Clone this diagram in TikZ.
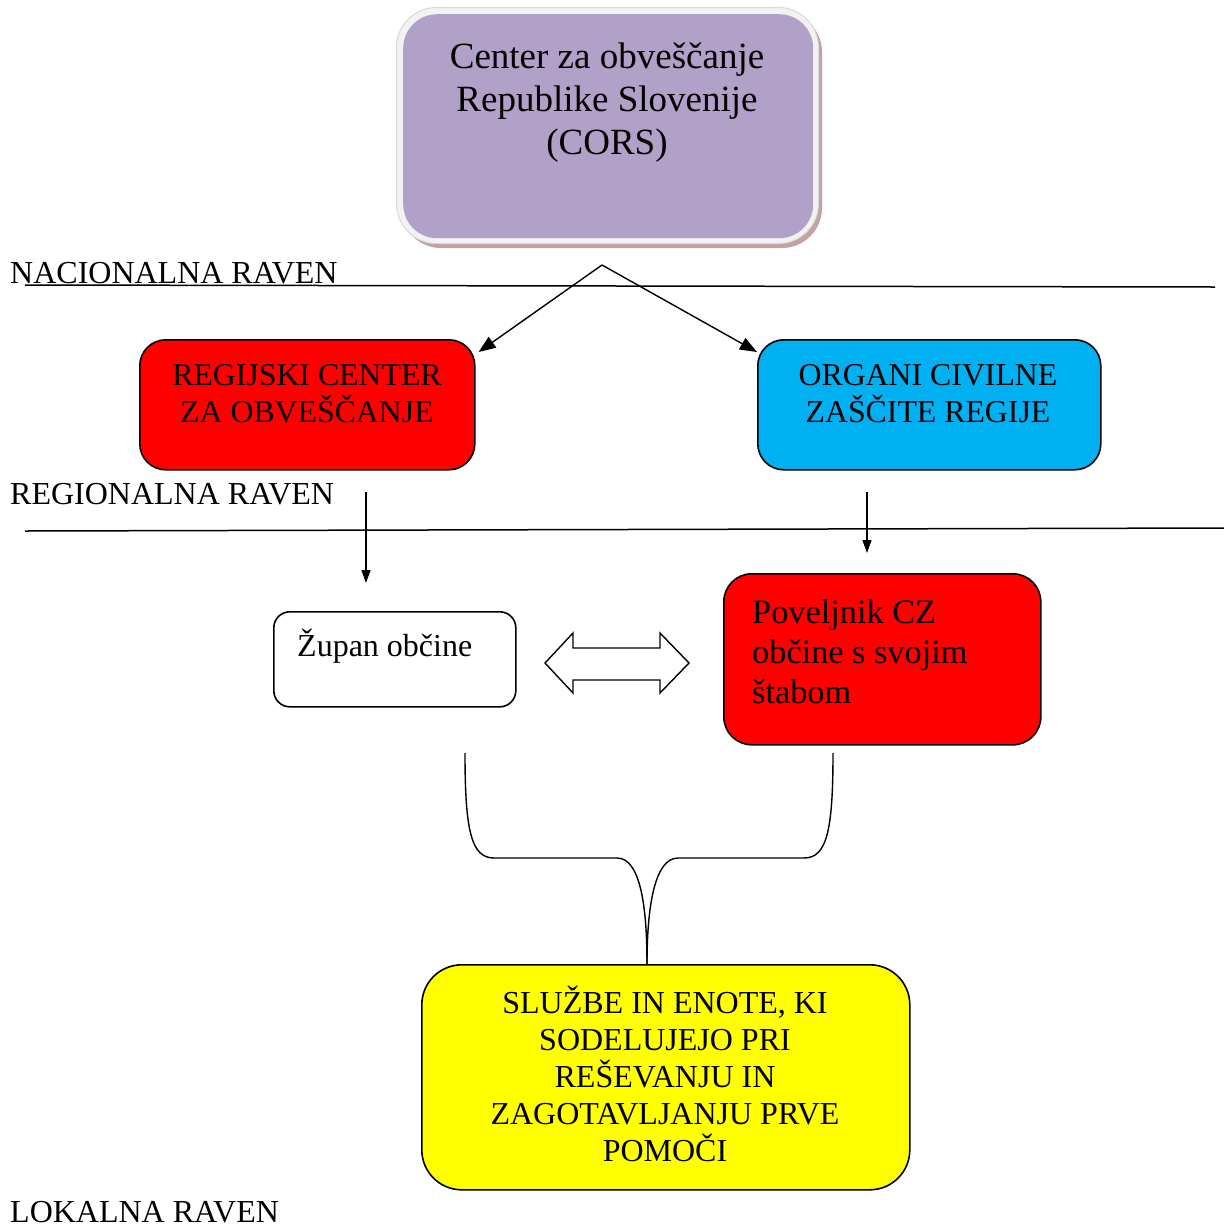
\documentclass[tikz,border=0pt]{standalone}
\usepackage{fontspec}
\setmainfont{Liberation Serif}
\usetikzlibrary{arrows.meta,calc}
\definecolor{cpurple}{HTML}{B1A0C7}
\definecolor{cblue}{HTML}{00B0F0}
\definecolor{cred}{HTML}{FF0000}
\definecolor{cyellow}{HTML}{FFFF00}
\definecolor{cshadow}{HTML}{C4A2A2}
\definecolor{cframe}{HTML}{F2F2F2}
\begin{document}
\begin{tikzpicture}[x=1pt,y=-1pt,
  box/.style={draw=black,line width=1.6pt,inner sep=0pt,anchor=north west},
  txt/.style={align=center,inner sep=0pt},
  conn/.style={line width=1.4pt,-{Triangle[length=17pt,width=13pt]}},
  vconn/.style={line width=1.3pt,-{Triangle[length=13pt,width=9pt]}},
  level/.style={line width=1.5pt},
  lab/.style={inner sep=0pt,anchor=base west,font=\fontsize{32}{37}\selectfont}]
\useasboundingbox[fill=white] (0,0) rectangle (1224,1227);

% top box with frame and shadow
\fill[cshadow,rounded corners=40pt] (401,12) rectangle (822,248);
\node[draw=black!15,line width=1pt,fill=cframe,rounded corners=40pt,inner sep=0pt,anchor=north west,minimum width=422pt,minimum height=236pt] (cors) at (396,7) {};
\node[fill=cpurple,rounded corners=34pt,inner sep=0pt,anchor=north west,minimum width=410pt,minimum height=224pt] (corsin) at (403,14) {};
\node[txt,font=\fontsize{37}{43}\selectfont] (corst) at (607,103) {Center za obveščanje\\Republike Slovenije\\(CORS)};

% level lines and labels
\coordinate (n1) at (25,285); \coordinate (n2) at (1215,287);
\draw[level] (n1) -- (n2);
\node[lab] (nac) at (10,283) {NACIONALNA RAVEN};
\coordinate (r1) at (25,531); \coordinate (r2) at (1224,528);
\draw[level] (r1) -- (r2);
\node[lab] (reg) at (10,504) {REGIONALNA RAVEN};
\node[lab] (lok) at (10,1222) {LOKALNA RAVEN};

% regional boxes
\node[box,fill=cred,rounded corners=26pt,minimum width=335pt,minimum height=130pt] (rc) at (139,339) {};
\node[txt,font=\fontsize{31.8}{37}\selectfont] (rct) at (307,394) {REGIJSKI CENTER\\ZA OBVEŠČANJE};
\node[box,fill=cblue,rounded corners=26pt,minimum width=343pt,minimum height=130pt] (oc) at (757,339) {};
\node[txt,font=\fontsize{31.8}{37}\selectfont] (oct) at (928,394) {ORGANI CIVILNE\\ZAŠČITE REGIJE};

% arrows from national level
\coordinate (apex) at (602,265);
\draw[conn] (apex) -- ($(rc.north east)+(3,13)$);
\draw[conn] (apex) -- ($(oc.north west)+(0,13)$);

% vertical arrows
\coordinate (v1s) at (366,492); \coordinate (v1e) at (366,583);
\coordinate (v2s) at (867,492); \coordinate (v2e) at (867,553);
\draw[vconn] (v1s) -- (v1e);
\draw[vconn] (v2s) -- (v2e);

% local boxes
\node[box,fill=white,rounded corners=16pt,minimum width=242pt,minimum height=95pt] (zup) at (273,611) {};
\node[inner sep=0pt,anchor=base west,font=\fontsize{32}{37}\selectfont] (zupt) at (297,656) {Župan občine};
\node[box,fill=cred,rounded corners=28pt,minimum width=317pt,minimum height=171pt] (pov) at (723,573) {};
\node[inner sep=0pt,anchor=west,align=left,font=\fontsize{34.3}{40}\selectfont] (povt) at (752,652) {Poveljnik CZ\\občine s svojim\\štabom};

% double arrow
\draw[line width=1.4pt,line join=miter] (545,663) -- (573,633) -- (573,648) -- (660,648) -- (660,633) -- (689,663) -- (660,693) -- (660,680) -- (573,680) -- (573,693) -- cycle;

% yellow box
\node[box,fill=cyellow,rounded corners=40pt,minimum width=488pt,minimum height=225pt] (yel) at (421,964) {};
\node[txt,font=\fontsize{32}{37}\selectfont] (yelt) at (665,1074) {SLUŽBE IN ENOTE, KI\\SODELUJEJO PRI\\REŠEVANJU IN\\ZAGOTAVLJANJU PRVE\\POMOČI};

% brace
\coordinate (bl) at (465,753);
\coordinate (br) at (833,753);
\coordinate (bj) at (647,964);
\draw[line width=1.4pt] (bl) .. controls (465,830) and (471,858) .. (494,858) -- (617,858) .. controls (640,858) and (647,905) .. (bj);
\draw[line width=1.4pt] (br) .. controls (833,830) and (827,858) .. (804,858) -- (678,858) .. controls (655,858) and (647,905) .. (bj);
\end{tikzpicture}
\end{document}
